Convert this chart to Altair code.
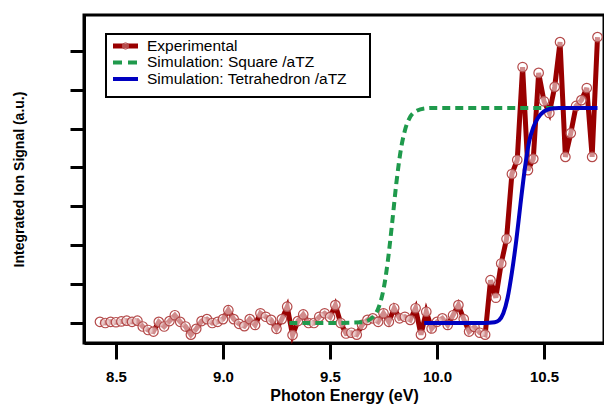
import altair as alt
import pandas as pd

# ---- data ----
exp_energy = [round(8.425 + 0.025 * i, 3) for i in range(94)]
exp_signal = [
    0.03, 0.00, 0.03, 0.02, 0.04, 0.06, 0.03, 0.06, -0.09, -0.18,
    -0.22, 0.03, -0.09, 0.05, 0.20, 0.03, -0.09, -0.30, -0.15, 0.05,
    0.10, 0.00, 0.03, 0.10, 0.33, 0.10, -0.02, -0.08, 0.10, -0.05,
    0.25, 0.16, 0.08, -0.15, 0.10, 0.42, -0.31, 0.05, 0.22, 0.00,
    0.00, 0.16, 0.25, 0.15, 0.46, 0.00, -0.27, -0.25, -0.30, -0.05,
    0.08, 0.12, 0.03, 0.25, 0.03, 0.38, 0.12, 0.16, 0.08, 0.38,
    -0.30, 0.29, -0.14, 0.03, 0.12, -0.05, 0.20, 0.46, 0.10, -0.22,
    -0.10, -0.25, -0.30, 1.10, 0.65, 1.53, 2.16, 3.83, 4.19, 6.58,
    3.93, 4.22, 6.43, 5.70, 5.40, 6.07, 7.22, 4.27, 4.88, 5.58,
    5.73, 6.04, 4.27, 7.35,
]

square_energy = [9.31, 9.50, 9.65, 9.70, 9.73, 9.75, 9.77, 9.79, 9.81, 9.83,
                 9.85, 9.87, 9.90, 9.95, 10.00, 10.30, 10.74]
square_signal = [0.0, 0.0, 0.02, 0.15, 0.44, 0.86, 1.58, 2.55, 3.59, 4.42,
                 4.95, 5.25, 5.44, 5.52, 5.53, 5.53, 5.53]

tetra_energy = [9.94, 10.10, 10.22, 10.27, 10.29, 10.31, 10.33, 10.35, 10.37,
                10.39, 10.41, 10.43, 10.45, 10.47, 10.50, 10.53, 10.57, 10.75]
tetra_signal = [0.0, 0.0, 0.0, 0.02, 0.07, 0.25, 0.65, 1.30, 2.10,
                3.05, 3.95, 4.65, 5.03, 5.26, 5.44, 5.51, 5.53, 5.53]

y_ticks = [0, 1, 2, 3, 4, 5, 6, 7]
x_ticks = [8.5, 9.0, 9.5, 10.0, 10.5]

legend_labels = ["Experimental", "Simulation: Square /aTZ", "Simulation: Tetrahedron /aTZ"]

RED = "#990000"
GREEN = "#1f9a4c"
BLUE = "#0000c0"
FONT = "Liberation Sans"

df_exp = pd.DataFrame({"E": exp_energy, "S": exp_signal})
df_sq = pd.DataFrame({"E": square_energy, "S": square_signal})
df_td = pd.DataFrame({"E": tetra_energy, "S": tetra_signal})

xscale = alt.Scale(domain=[8.3505, 10.7804], nice=False, zero=False)
yscale = alt.Scale(domain=[-0.514, 7.918], nice=False, zero=False)

x_enc = alt.X("E:Q", scale=xscale,
              axis=alt.Axis(values=x_ticks, format=".1f", title="Photon Energy (eV)",
                            tickSize=16, labelPadding=10, titlePadding=3,
                            labelFontSize=15, titleFontSize=16))
y_enc = alt.Y("S:Q", scale=yscale,
              axis=alt.Axis(values=y_ticks, labels=False, title="Integrated Ion Signal (a.u.)",
                            tickSize=14, titlePadding=42, titleFontSize=14))

exp_line = alt.Chart(df_exp).mark_line(color=RED, strokeWidth=5, strokeJoin="miter").encode(x=x_enc, y=y_enc)
exp_pts = alt.Chart(df_exp).mark_point(shape="circle", size=90, filled=False, fill="white",
                                       fillOpacity=0.55, stroke="#b44a4a", strokeWidth=1.2,
                                       opacity=1).encode(x=x_enc, y=y_enc)
sq_line = alt.Chart(df_sq).mark_line(color=GREEN, strokeWidth=4, strokeDash=[8, 5],
                                     interpolate="monotone").encode(x=x_enc, y=y_enc)
td_line = alt.Chart(df_td).mark_line(color=BLUE, strokeWidth=4,
                                     interpolate="monotone").encode(x=x_enc, y=y_enc)

# ---- legend (drawn in pixel space inside the plot) ----
one = pd.DataFrame({"k": [0]})
leg_box = alt.Chart(one).mark_rect(fill="white", stroke="black", strokeWidth=2).encode(
    x=alt.value(22), x2=alt.value(286), y=alt.value(19), y2=alt.value(82))
leg_red = alt.Chart(one).mark_rule(color=RED, strokeWidth=5).encode(
    x=alt.value(29), x2=alt.value(54), y=alt.value(31))
leg_red_pt = alt.Chart(one).mark_point(shape="circle", size=40, filled=False, fill="white",
                                       fillOpacity=0.3, stroke="#b44a4a", strokeWidth=1).encode(
    x=alt.value(41.5), y=alt.value(31))
leg_green = alt.Chart(one).mark_rule(color=GREEN, strokeWidth=4, strokeDash=[9, 6]).encode(
    x=alt.value(29), x2=alt.value(54), y=alt.value(47.5))
leg_blue = alt.Chart(one).mark_rule(color=BLUE, strokeWidth=4).encode(
    x=alt.value(29), x2=alt.value(54), y=alt.value(64))
leg_text = [
    alt.Chart(pd.DataFrame({"t": [lab]})).mark_text(
        align="left", baseline="middle", font=FONT, fontSize=15.5, color="black").encode(
        text="t:N", x=alt.value(63), y=alt.value(yy))
    for lab, yy in zip(legend_labels, [30.5, 47, 63.5])
]

chart = alt.layer(exp_line, exp_pts, sq_line, td_line, leg_box, leg_red, leg_red_pt,
                  leg_green, leg_blue, *leg_text).properties(
    width=520, height=328,
    padding={"left": 84, "top": 15, "right": 0, "bottom": 62},
    autosize=alt.AutoSizeParams(type="none"),
    background="white",
).configure_view(
    stroke="black", strokeWidth=3
).configure_axis(
    domainColor="black", domainWidth=3, tickColor="black", tickWidth=3, grid=False,
    labelFont=FONT, labelFontWeight="bold", labelColor="black",
    titleFont=FONT, titleFontWeight="bold", titleColor="black",
)

chart.save("out.html", embed_options={"renderer": "svg", "actions": False})
